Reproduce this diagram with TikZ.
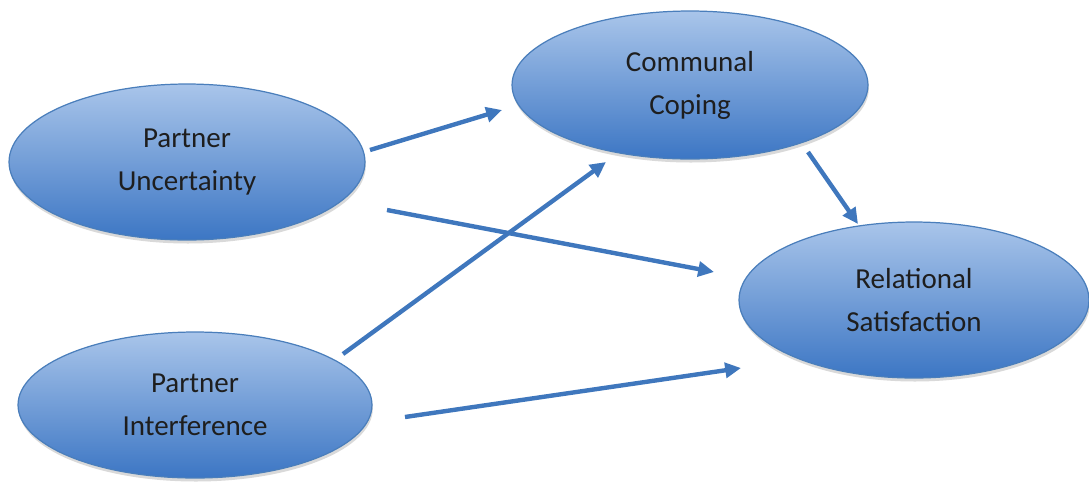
\documentclass[tikz,border=0pt]{standalone}
\usepackage{fontspec}
\setmainfont{Carlito}
\usetikzlibrary{shapes.geometric,arrows.meta,shadows}
\definecolor{edgeblue}{HTML}{4A7EBB}
\definecolor{toplight}{HTML}{A9C5EA}
\definecolor{botdark}{HTML}{3C76C4}
\definecolor{arrowblue}{HTML}{3F77BD}
\definecolor{txt}{HTML}{1E1E1E}
\tikzset{
  bubble/.style={ellipse, draw=edgeblue, line width=0.7pt, top color=toplight, bottom color=botdark,
    inner sep=0pt, align=center, text=txt, font=\fontsize{16.5}{24.5}\selectfont,
    drop shadow={shadow xshift=0.5pt, shadow yshift=-2pt, opacity=0.25, fill=black!60}},
  link/.style={draw=arrowblue, line width=2.5pt, -{Triangle[length=9pt,width=8.5pt]}}
}
\begin{document}
\begin{tikzpicture}[x=0.02cm,y=-0.02cm]
\useasboundingbox (0,0) rectangle (1089,481);
\node[bubble, minimum width=7.12cm, minimum height=3.12cm] (pu) at (187,162) {Partner\\Uncertainty};
\node[bubble, minimum width=7.12cm, minimum height=2.96cm] (cc) at (690,85) {Communal\\Coping};
\node[bubble, minimum width=7.0cm, minimum height=3.12cm] (rs) at (914,300) {Relational\\Satisfaction};
\node[bubble, minimum width=7.08cm, minimum height=2.92cm] (pi) at (195,405) {Partner\\Interference};
\coordinate (a1s) at (370,150); \coordinate (a1e) at (502,110);
\coordinate (a2s) at (387,210); \coordinate (a2e) at (714,272);
\coordinate (a3s) at (343,354); \coordinate (a3e) at (606,162);
\coordinate (a4s) at (405,417); \coordinate (a4e) at (741,368);
\coordinate (a5s) at (808,152); \coordinate (a5e) at (858,224);
\draw[link] (a1s) -- (a1e);
\draw[link] (a2s) -- (a2e);
\draw[link] (a3s) -- (a3e);
\draw[link] (a4s) -- (a4e);
\draw[link] (a5s) -- (a5e);
\end{tikzpicture}
\end{document}
